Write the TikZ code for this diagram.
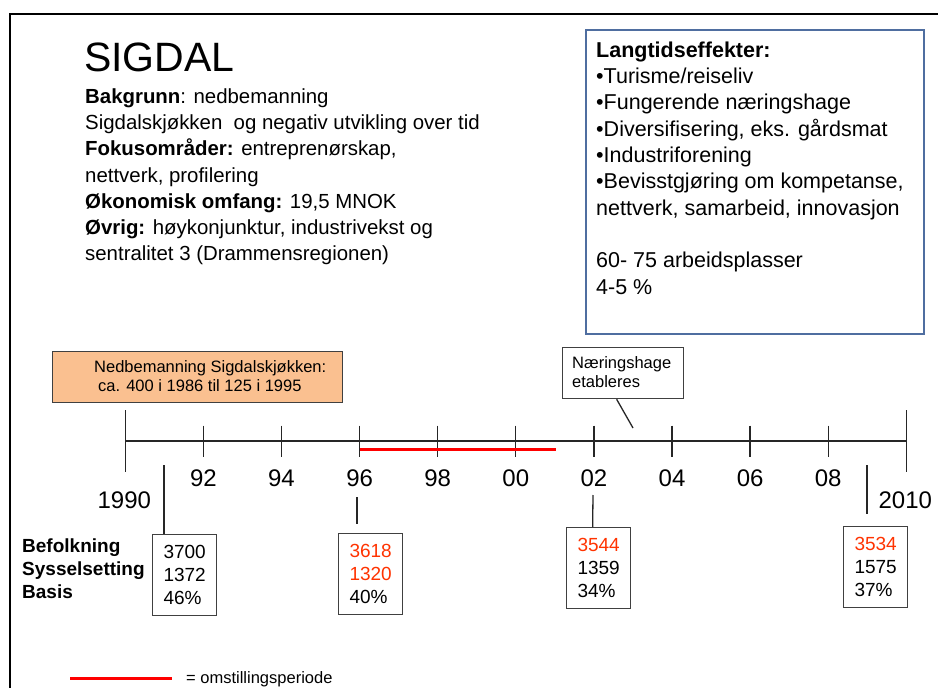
\documentclass[tikz,border=0pt]{standalone}
\usepackage{fontspec}
\setmainfont{Liberation Sans}
\usetikzlibrary{positioning}

\definecolor{effblue}{RGB}{79,110,160}
\definecolor{nedorange}{RGB}{250,192,144}
\definecolor{boxgray}{RGB}{64,64,64}
\definecolor{numred}{RGB}{255,51,0}

\begin{document}
\begin{tikzpicture}[x=1pt,y=-1pt,
 axis/.style={line width=1.3pt,black!85},
 link/.style={line width=1.3pt,black!85},
 omst/.style={line width=3pt,red},
 year/.style={font=\fontsize{24}{28}\selectfont,anchor=base,inner sep=0},
 body/.style={font=\fontsize{20.4}{26.3}\selectfont,align=left,inner sep=0,anchor=north west},
 small text/.style={font=\fontsize{16.5}{19.4}\selectfont,align=left,inner sep=0},
 note box/.style={draw=boxgray,line width=1.3pt,anchor=north west},
 data box/.style={draw=boxgray,line width=1.3pt,anchor=north west,
   minimum width=64pt,minimum height=81pt,align=left,
   font=\fontsize{19}{23.3}\selectfont},
 row label/.style={font=\bfseries\fontsize{19}{23}\selectfont,align=left,inner sep=0,anchor=north west}]

  \path[use as bounding box,fill=white] (0,0) rectangle (938,688);
  \draw[line width=2pt] (10,688) -- (10,14) -- (938,14);

  % heading and background
  \node[anchor=base west,inner sep=0,font=\fontsize{41}{48}\selectfont] (title) at (84,71) {SIGDAL};
  \node[body] (bakgrunn) at (85,88.2) {\textbf{Bakgrunn}: nedbemanning\\
    Sigdalskjøkken\ \ og negativ utvikling over tid\\
    \textbf{Fokusområder:} entreprenørskap,\\
    nettverk, profilering\\
    \textbf{Økonomisk omfang:} 19,5 MNOK\\
    \textbf{Øvrig:} høykonjunktur, industrivekst og\\
    sentralitet 3 (Drammensregionen)};

  % long term effects
  \node[draw=effblue,line width=1.5pt,anchor=north west,
    minimum width=338pt,minimum height=304pt] (effbox) at (585,29) {};
  \node[body,font=\fontsize{21.5}{26.3}\selectfont] (efftext) [below right=12.6pt and 11pt of effbox.north west]
    {\textbf{Langtidseffekter:}\\
    •Turisme/reiseliv\\
    •Fungerende næringshage\\
    •Diversifisering, eks. gårdsmat\\
    •Industriforening\\
    •Bevisstgjøring om kompetanse,\\
    nettverk, samarbeid, innovasjon\\[26.3pt]
    60- 75 arbeidsplasser\\
    4-5 \%};

  % time line
  \foreach \i in {0,...,10}
    \coordinate (t\i) at ({125.3+78.1*\i},441);
  \coordinate (yrow) at (0,486.7);
  \coordinate (yrowlong) at (0,508.3);
  \draw[axis] (t0) -- (t10);
  \draw[axis] ([yshift=31pt]t0) -- ([yshift=-31pt]t0);
  \draw[axis] ([yshift=31pt]t10) -- ([yshift=-31pt]t10);
  \foreach \i/\lab in {1/92,2/94,3/96,4/98,5/00,6/02,7/04,8/06,9/08} {
    \draw[axis] ([yshift=15.5pt]t\i) -- ([yshift=-15.5pt]t\i);
    \node[year] (yr\i) at (t\i |- yrow) {\lab};}
  \node[year] (yr0) at ([xshift=-1pt]t0 |- yrowlong) {1990};
  \node[year] (yr10) at ([xshift=-1pt]t10 |- yrowlong) {2010};

  \coordinate (omslutt) at (556,449);
  \draw[omst] (t3 |- omslutt) -- (omslutt);

  % notes above the line
  \node[note box,fill=nedorange,minimum width=290pt,minimum height=51pt] (ned) at (52,351) {};
  \node[small text] (nedtext) [below right=9.3pt and 42pt of ned.north west]
    {Nedbemanning Sigdalskjøkken:\\\hspace*{4pt}ca. 400 i 1986 til 125 i 1995};

  \node[note box,fill=white,minimum width=121pt,minimum height=51pt] (hage) at (562,347) {};
  \node[small text] (hagetext) [below right=9.3pt and 10pt of hage.north west]
    {Næringshage\\etableres};
  \coordinate (hagept) at (633,428);
  \draw[link] ([xshift=-6.5pt]hage.south) -- (hagept);

  % figures
  \node[row label] (rows) at (22,538.5) {Befolkning\\Sysselsetting\\Basis};
  \node[data box] (b90) at (152,534) {3700\\1372\\46\%};
  \node[data box] (b96) at (338,533) {\textcolor{numred}{3618}\\\textcolor{numred}{1320}\\40\%};
  \node[data box] (b02) at (566,527) {\textcolor{numred}{3544}\\1359\\34\%};
  \node[data box] (b10) at (843,526) {\textcolor{numred}{3534}\\1575\\37\%};

  \coordinate (c90) at (164,465);
  \draw[link] (c90) -- (c90 |- b90.north);
  \coordinate (c96a) at (357,497);
  \coordinate (c96b) at (357,524);
  \draw[link] (c96a) -- (c96b);
  \coordinate (c02) at (593,495);
  \draw[link] (c02) -- ([xshift=-6pt]b02.north);
  \coordinate (c10a) at (867,465);
  \coordinate (c10b) at (867,514);
  \draw[link] (c10a) -- (c10b);

  % legend
  \coordinate (leg0) at (70,678);
  \coordinate (leg1) at (172,678);
  \draw[omst] (leg0) -- (leg1);
  \node[small text,anchor=base west] (legtext) at (186,683.5) {= omstillingsperiode};

\end{tikzpicture}
\end{document}
